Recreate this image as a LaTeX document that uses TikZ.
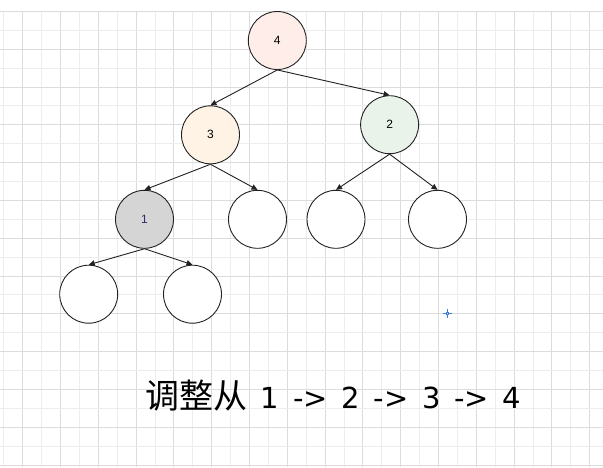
\documentclass[tikz,border=0pt]{standalone}
\usepackage{fontspec}
\setmainfont{Liberation Sans}
\newfontfamily\cjk{Noto Sans CJK SC}
\newfontfamily\steplabel[WordSpace=1.49]{DejaVu Sans}
\usetikzlibrary{arrows.meta}
\definecolor{gridminor}{HTML}{EDEDED}
\definecolor{gridmajor}{HTML}{DCDCDC}
\definecolor{pinkfill}{HTML}{FFEDEA}
\definecolor{orangefill}{HTML}{FFF3E6}
\definecolor{greenfill}{HTML}{E9F3EA}
\definecolor{grayfill}{HTML}{D5D5D5}
\definecolor{edgecol}{HTML}{222222}
\definecolor{cursorblue}{HTML}{3B7DDD}
\definecolor{navytext}{HTML}{2E2B6E}
\begin{document}
\begin{tikzpicture}[x=1pt,y=-1pt,
  heapnode/.style={circle,draw=edgecol,line width=0.9pt,minimum size=58pt,inner sep=0pt,
    font=\fontsize{12}{12}\selectfont,text=black},
  link/.style={draw=edgecol,line width=0.9pt,-{Triangle[length=6pt,width=5.5pt]}}]
\useasboundingbox (0,0) rectangle (603,467);
\fill[white] (0,0) rectangle (603,467);
% background grid
\foreach \k in {0,...,31}{
  \pgfmathsetmacro\xx{3.7+\k*18.9}
  \pgfmathparse{int(mod(\k,2))}
  \ifnum\pgfmathresult=1
    \draw[gridmajor,line width=0.8pt] (\xx,11.3) -- (\xx,467);
  \else
    \draw[gridminor,line width=0.8pt] (\xx,11.3) -- (\xx,467);
  \fi
}
\foreach \k in {0,...,24}{
  \pgfmathsetmacro\yy{11.3+\k*18.9}
  \pgfmathparse{int(mod(\k,2))}
  \ifnum\pgfmathresult=0
    \draw[gridmajor,line width=0.8pt] (0,\yy) -- (603,\yy);
  \else
    \draw[gridminor,line width=0.8pt] (0,\yy) -- (603,\yy);
  \fi
}
% heap nodes
\node[heapnode,fill=pinkfill] (n4) at (277.3,40.5) {4};
\node[heapnode,fill=orangefill] (n3) at (210.5,134.8) {3};
\node[heapnode,fill=greenfill] (n2) at (389.6,124.7) {2};
\node[heapnode,fill=grayfill,text=navytext] (n1) at (144.5,219.3) {1};
\node[heapnode,fill=white] (r3) at (257.5,219.3) {};
\node[heapnode,fill=white] (l2) at (336,219.3) {};
\node[heapnode,fill=white] (r2) at (437.5,219.3) {};
\node[heapnode,fill=white] (l1) at (88.7,294.2) {};
\node[heapnode,fill=white] (r1) at (192.5,294.2) {};
% parent-to-child links
\draw[link] (n4.south) -- (n3.north);
\draw[link] (n4.south) -- (n2.north);
\draw[link] (n3.south) -- (n1.north);
\draw[link] (n3.south) -- (r3.north);
\draw[link] (n2.south) -- (l2.north);
\draw[link] (n2.south) -- (r2.north);
\draw[link] (n1.south) -- (l1.north);
\draw[link] (n1.south) -- (r1.north);
% small cursor cross
\coordinate (cur) at (447.3,313.3);
\draw[cursorblue,line width=1.1pt] ([xshift=-4.5pt]cur) -- ([xshift=-1.5pt]cur)
  ([xshift=1.5pt]cur) -- ([xshift=4.5pt]cur)
  ([yshift=-4.5pt]cur) -- ([yshift=-1.5pt]cur)
  ([yshift=1.5pt]cur) -- ([yshift=4.5pt]cur);
\draw[cursorblue,line width=0.8pt] ([shift={(-1.3pt,-1.3pt)}]cur) rectangle ([shift={(1.3pt,1.3pt)}]cur);
% caption
\node[anchor=base west,inner sep=0pt,text=black] (cap) at (145,408.5)
  {{\cjk\fontsize{34}{34}\selectfont 调整从}{\steplabel\fontsize{29}{29}\selectfont\ 1 -> 2 -> 3 -> 4}};
\end{tikzpicture}
\end{document}
